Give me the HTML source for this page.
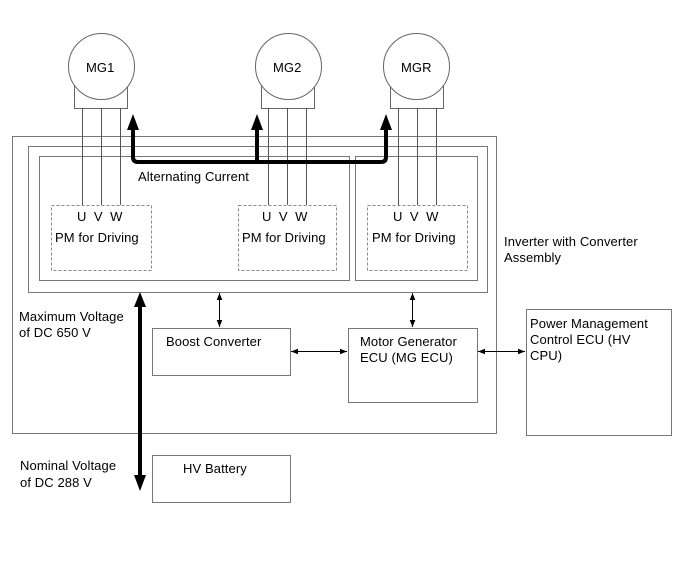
<!DOCTYPE html>
<html><head><style>
html,body{margin:0;padding:0;background:#fff;}
svg{display:block;}
text{font-family:"Liberation Sans",Arial,sans-serif;font-size:13px;fill:#000;letter-spacing:0.1px;}
</style></head><body>
<svg width="690" height="562" viewBox="0 0 690 562" xmlns="http://www.w3.org/2000/svg">
<defs>
<marker id="sa" viewBox="0 0 10 10" refX="10" refY="5" markerWidth="7" markerHeight="7" orient="auto-start-reverse"><path d="M0,1 L10,5 L0,9 z" fill="#000"/></marker>
</defs>
<g fill="none" stroke="#777" stroke-width="1">
<rect x="12.5" y="136.5" width="484" height="297"/>
<rect x="28.5" y="146.5" width="459" height="146"/>
<rect x="39.5" y="156.5" width="310" height="124"/>
<rect x="355.5" y="156.5" width="122" height="124"/>
<rect x="152.5" y="328.5" width="138" height="47"/>
<rect x="348.5" y="328.5" width="129" height="74"/>
<rect x="526.5" y="309.5" width="145" height="126"/>
<rect x="152.5" y="455.5" width="138" height="47"/>
</g>
<g fill="#fff" stroke="#666" stroke-width="1">
<rect x="74.5" y="85.5" width="53" height="23"/>
<circle cx="101.5" cy="66.5" r="33"/>
<rect x="261.5" y="85.5" width="53" height="23"/>
<circle cx="288.5" cy="66.5" r="33"/>
<rect x="390.5" y="85.5" width="53" height="23"/>
<circle cx="416.5" cy="66.5" r="33"/>
</g>
<g stroke="#555" stroke-width="1">
<line x1="82.5" y1="108" x2="82.5" y2="205"/><line x1="101.5" y1="108" x2="101.5" y2="205"/><line x1="120.5" y1="108" x2="120.5" y2="205"/>
<line x1="268.5" y1="108" x2="268.5" y2="205"/><line x1="287.5" y1="108" x2="287.5" y2="205"/><line x1="306.5" y1="108" x2="306.5" y2="205"/>
<line x1="398.5" y1="108" x2="398.5" y2="205"/><line x1="417.5" y1="108" x2="417.5" y2="205"/><line x1="436.5" y1="108" x2="436.5" y2="205"/>
</g>
<g fill="none" stroke="#888" stroke-dasharray="3,2">
<rect x="51.5" y="205.5" width="100" height="65"/>
<rect x="238.5" y="205.5" width="98" height="65"/>
<rect x="367.5" y="205.5" width="100" height="65"/>
</g>
<path d="M133,128 L133,157 Q133,162 138,162 L381,162 Q386,162 386,157 L386,128 M257,128 L257,162" fill="none" stroke="#000" stroke-width="4"/>
<g fill="#000">
<path d="M127,130 L133,114 L139,130 z"/>
<path d="M251,130 L257,114 L263,130 z"/>
<path d="M380,130 L386,114 L392,130 z"/>
<rect x="138" y="305" width="4" height="172"/>
<path d="M134,307 L140,292 L146,307 z"/>
<path d="M134,475 L140,491 L146,475 z"/>
</g>
<g stroke="#000" stroke-width="1" marker-start="url(#sa)" marker-end="url(#sa)">
<line x1="219.5" y1="293" x2="219.5" y2="327"/>
<line x1="412.5" y1="293" x2="412.5" y2="327"/>
<line x1="291" y1="351.5" x2="347" y2="351.5"/>
<line x1="478" y1="351.5" x2="525" y2="351.5"/>
</g>
<text x="86" y="72">MG1</text>
<text x="273" y="72">MG2</text>
<text x="401" y="72">MGR</text>
<text x="138" y="181">Alternating Current</text>
<text x="77" y="221" xml:space="preserve">U  V  W</text>
<text x="262" y="221" xml:space="preserve">U  V  W</text>
<text x="393" y="221" xml:space="preserve">U  V  W</text>
<text x="55" y="242">PM for Driving</text>
<text x="242" y="242">PM for Driving</text>
<text x="372" y="242">PM for Driving</text>
<text x="504" y="246">Inverter with Converter</text>
<text x="504" y="262">Assembly</text>
<text x="19" y="321">Maximum Voltage</text>
<text x="19" y="337">of DC 650 V</text>
<text x="166" y="346">Boost Converter</text>
<text x="360" y="346">Motor Generator</text>
<text x="360" y="362">ECU (MG ECU)</text>
<text x="530" y="328">Power Management</text>
<text x="530" y="344">Control ECU (HV</text>
<text x="530" y="360">CPU)</text>
<text x="20" y="470">Nominal Voltage</text>
<text x="20" y="487">of DC 288 V</text>
<text x="183" y="473">HV Battery</text>
</svg>
</body></html>
